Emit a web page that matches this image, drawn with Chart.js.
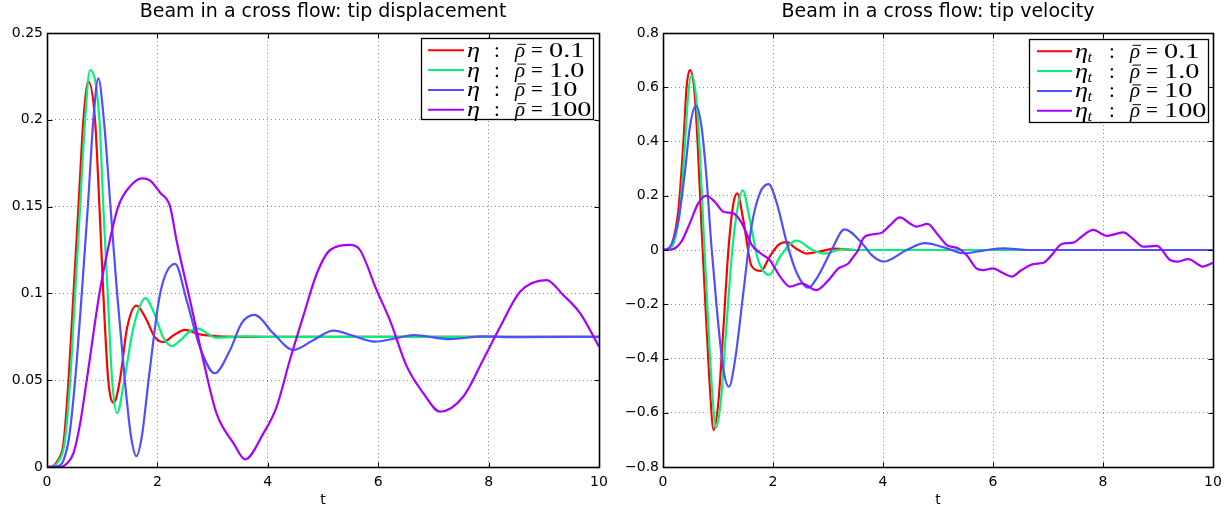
<!DOCTYPE html>
<html>
<head>
<meta charset="utf-8">
<script src="https://cdn.jsdelivr.net/npm/chart.js@4.4.1/dist/chart.umd.min.js"></script>
<style>
html,body{margin:0;padding:0;background:#fff;}
#wrap{position:relative;width:1230px;height:510px;overflow:hidden;background:#fff;}
.box{position:absolute;top:0;width:615px;height:510px;}
canvas{display:block;}
</style>
</head>
<body>
<div id="wrap">
  <div class="box" style="left:0"><canvas id="c1" width="615" height="510"></canvas></div>
  <div class="box" style="left:615px"><canvas id="c2" width="615" height="510"></canvas></div>
</div>
<script>
// ---------- data ----------
const rhoLabels = ['0.1', '1.0', '10', '100'];
const seriesColors = ['#ff0000', '#00f27a', '#4f4fff', '#a800ff'];
const xTicks = [0, 2, 4, 6, 8, 10];
const dispTicks = [0, 0.05, 0.1, 0.15, 0.2, 0.25];
const velTicks = [-0.8, -0.6, -0.4, -0.2, 0, 0.2, 0.4, 0.6, 0.8];

// tip displacement, rho = 0.1
const tD1 = [0,0.1,0.2,0.3,0.39,0.48,0.57,0.66,0.75,0.87,0.95,1.02,1.11,1.21,1.32,1.45,1.62,1.8,1.95,2.11,2.3,2.5,2.75,3.0,3.5,4,10];
const D1  = [0,0.0005,0.004,0.014,0.05,0.1,0.15,0.2,0.222,0.2,0.15,0.1,0.05,0.037,0.05,0.08,0.093,0.085,0.075,0.072,0.076,0.079,0.0765,0.0755,0.075,0.075,0.075];
// rho = 1.0
const tD2 = [0,0.1,0.2,0.32,0.42,0.51,0.6,0.69,0.78,0.95,1.02,1.10,1.18,1.27,1.40,1.55,1.65,1.78,1.95,2.1,2.26,2.45,2.6,2.74,2.9,3.05,3.3,3.6,4,10];
const D2  = [0,0.0004,0.003,0.014,0.05,0.1,0.15,0.2,0.2287,0.2,0.15,0.1,0.05,0.031,0.05,0.078,0.09,0.0973,0.088,0.075,0.0697,0.074,0.0785,0.0797,0.077,0.0745,0.0748,0.0752,0.075,0.075];
// rho = 10
const tD3 = [0,0.2,0.3,0.4,0.51,0.63,0.74,0.84,0.93,1.03,1.15,1.27,1.41,1.52,1.62,1.72,1.84,2.05,2.32,2.53,2.77,3.04,3.31,3.53,3.76,4.10,4.46,4.83,5.19,5.55,5.94,6.3,6.64,7.3,7.9,8.5,10];
const D3  = [0,0.0005,0.004,0.017,0.05,0.1,0.15,0.2,0.2239,0.2,0.15,0.1,0.05,0.018,0.0063,0.018,0.05,0.1,0.117,0.096,0.069,0.054,0.067,0.083,0.0876,0.077,0.0674,0.0732,0.0785,0.0755,0.0722,0.074,0.076,0.0737,0.0752,0.0748,0.075];
// rho = 100
const tD4 = [0,0.24,0.36,0.48,0.6,0.72,0.95,1.1,1.29,1.5,1.72,1.87,2.05,2.23,2.35,2.59,2.83,3.07,3.38,3.59,3.92,4.16,4.40,4.64,4.89,5.13,5.49,5.67,5.97,6.21,6.52,6.82,7.12,7.54,7.90,8.21,8.57,9.05,9.35,9.66,10];
const D4  = [0,0,0.002,0.008,0.025,0.05,0.1,0.125,0.15,0.1615,0.1663,0.165,0.158,0.15,0.13,0.0962,0.0616,0.031,0.0136,0.0044,0.0194,0.0347,0.0616,0.0866,0.1116,0.125,0.1279,0.125,0.102,0.0847,0.0578,0.0424,0.0319,0.0405,0.0616,0.0808,0.101,0.1077,0.0991,0.0885,0.0693];

// tip velocity, rho = 0.1
const tV1 = [0,0.1,0.16,0.28,0.37,0.43,0.49,0.57,0.63,0.70,0.76,0.84,0.92,1.01,1.10,1.19,1.28,1.35,1.46,1.61,1.78,1.94,2.10,2.25,2.40,2.61,2.88,3.13,3.5,10];
const V1  = [0,0.003,0.02,0.147,0.393,0.602,0.663,0.59,0.393,0.088,-0.158,-0.465,-0.664,-0.553,-0.283,0.002,0.172,0.209,0.111,-0.059,-0.077,-0.024,0.019,0.029,0.008,-0.013,-0.004,0.005,0,0];
// rho = 1.0
const tV2 = [0,0.1,0.2,0.31,0.40,0.46,0.52,0.61,0.67,0.74,0.80,0.88,0.965,1.05,1.15,1.26,1.36,1.45,1.58,1.73,1.93,2.13,2.43,2.70,2.94,3.25,3.6,10];
const V2  = [0,0.002,0.03,0.147,0.393,0.577,0.645,0.55,0.36,0.06,-0.18,-0.48,-0.655,-0.56,-0.29,0,0.16,0.22,0.11,-0.037,-0.092,-0.024,0.035,0.002,-0.013,0.002,0,0];
// rho = 10
const tV3 = [0,0.1,0.28,0.40,0.49,0.60,0.70,0.79,0.88,0.98,1.10,1.20,1.31,1.46,1.61,1.76,1.92,2.07,2.25,2.43,2.64,2.82,3.07,3.3,3.61,3.80,4.01,4.43,4.76,5.16,5.46,5.82,6.19,6.61,10];
const V3  = [0,0.006,0.11,0.29,0.455,0.531,0.455,0.27,0.015,-0.22,-0.443,-0.504,-0.405,-0.158,0.088,0.209,0.243,0.172,0.027,-0.084,-0.139,-0.096,0.002,0.076,0.027,-0.02,-0.043,0,0.025,0.006,-0.012,-0.002,0.006,0,0];
// rho = 100
const tV4 = [0,0.16,0.34,0.49,0.64,0.79,0.94,1.10,1.28,1.43,1.61,1.76,1.94,2.13,2.31,2.52,2.79,3.01,3.19,3.37,3.46,3.55,3.64,3.82,3.98,4.13,4.31,4.49,4.61,4.81,4.98,5.16,5.37,5.52,5.70,5.82,6.0,6.19,6.34,6.52,6.73,6.92,7.07,7.25,7.46,7.61,7.82,8.07,8.37,8.55,8.73,8.98,9.22,9.34,9.55,9.82,10];
const V4  = [0,0.002,0.033,0.1,0.172,0.2,0.178,0.141,0.135,0.1,0.02,-0.01,-0.037,-0.098,-0.135,-0.123,-0.148,-0.111,-0.068,-0.05,-0.025,0,0.043,0.058,0.064,0.092,0.12,0.098,0.086,0.096,0.061,0.018,0.006,-0.018,-0.068,-0.074,-0.068,-0.086,-0.098,-0.074,-0.052,-0.047,-0.018,0.022,0.027,0.049,0.074,0.052,0.065,0.04,0.012,0.015,-0.037,-0.043,-0.034,-0.061,-0.047];

// ---------- helpers ----------
function pts(t, v) { return t.map((x, k) => ({ x: x, y: v[k] })); }
function fmtTick(v) { return String(v).replace('-', '\u2212'); }

const SANS = '"DejaVu Sans", "Liberation Sans", sans-serif';
const SERIF = '"Liberation Serif", "DejaVu Serif", serif';

function mathText(ctx, s, x, y, font, hs) {
  ctx.save();
  ctx.font = font;
  ctx.translate(x, y);
  ctx.scale(hs, 1);
  ctx.fillText(s, 0, 0);
  ctx.restore();
}

const framePlugin = {
  id: 'frame',
  afterDatasetsDraw(chart) {
    const ctx = chart.ctx, a = chart.chartArea;
    const xs = chart.scales.x, ys = chart.scales.y;
    ctx.save();
    ctx.setLineDash([]);
    ctx.strokeStyle = '#000';
    ctx.lineWidth = 1.6;
    const L = Math.round(a.left) + 0.5, R = Math.round(a.right) + 0.5;
    const T = Math.round(a.top) + 0.5, B = Math.round(a.bottom) + 0.5;
    ctx.strokeRect(L, T, R - L, B - T);
    ctx.lineWidth = 1;
    ctx.beginPath();
    xs.ticks.forEach(tk => {
      const px = Math.round(xs.getPixelForValue(tk.value)) + 0.5;
      ctx.moveTo(px, B); ctx.lineTo(px, B - 5);
      ctx.moveTo(px, T); ctx.lineTo(px, T + 5);
    });
    ys.ticks.forEach(tk => {
      const py = Math.round(ys.getPixelForValue(tk.value)) + 0.5;
      ctx.moveTo(L, py); ctx.lineTo(L + 5, py);
      ctx.moveTo(R, py); ctx.lineTo(R - 5, py);
    });
    ctx.stroke();
    ctx.restore();
  }
};

const mathLegend = {
  id: 'mathLegend',
  afterDraw(chart, args, o) {
    const ctx = chart.ctx, a = chart.chartArea;
    const L = Math.round(a.right - o.inset - o.w), T = Math.round(a.top + o.top);
    ctx.save();
    ctx.setLineDash([]);
    ctx.fillStyle = '#fff';
    ctx.fillRect(L, T, o.w, o.h);
    ctx.strokeStyle = '#000';
    ctx.lineWidth = 1.3;
    ctx.strokeRect(L + 0.5, T + 0.5, o.w, o.h);
    ctx.textBaseline = 'alphabetic';
    ctx.textAlign = 'left';
    chart.data.datasets.forEach((ds, i) => {
      const y = T + 12.3 + i * 19.8;
      ctx.strokeStyle = ds.borderColor;
      ctx.lineWidth = 2;
      ctx.beginPath();
      ctx.moveTo(L + o.line0, y);
      ctx.lineTo(L + o.line1, y);
      ctx.stroke();
      const base = y + 6.5;
      ctx.fillStyle = '#000';
      mathText(ctx, '\u03b7', L + o.eta, base, 'italic 21px ' + SERIF, 1.25);
      if (o.sub) mathText(ctx, o.sub, L + o.eta + 12.5, base + 4, 'italic 15px ' + SERIF, 1.1);
      mathText(ctx, ':', L + o.colon, base, '21px ' + SERIF, 1);
      mathText(ctx, '\u03c1', L + o.rho, base, 'italic 21px ' + SERIF, 1);
      ctx.strokeStyle = '#000';
      ctx.lineWidth = 1;
      ctx.beginPath();
      ctx.moveTo(L + o.rho + 2.5, base - 12.5);
      ctx.lineTo(L + o.rho + 11, base - 12.5);
      ctx.stroke();
      mathText(ctx, '=', L + o.eq, base, '21px ' + SERIF, 1);
      mathText(ctx, ds.label, L + o.val, base, '21px ' + SERIF, 1.35);
    });
    ctx.restore();
  }
};

function makeChart(id, cfg) {
  const datasets = cfg.series.map((s, i) => ({
    label: rhoLabels[i],
    data: pts(s[0], s[1]),
    borderColor: seriesColors[i],
    backgroundColor: seriesColors[i],
    borderWidth: 2.2,
    pointRadius: 0,
    fill: false,
    cubicInterpolationMode: 'monotone',
    order: 4 - i
  }));
  return new Chart(document.getElementById(id), {
    type: 'line',
    data: { datasets: datasets },
    plugins: [framePlugin, mathLegend],
    options: {
      responsive: false,
      animation: false,
      events: [],
      layout: { padding: { left: 0, right: cfg.padRight, top: 0, bottom: 0 } },
      plugins: {
        legend: { display: false },
        tooltip: { enabled: false },
        title: {
          display: true, text: cfg.title, fullSize: false, color: '#000',
          font: { family: SANS, size: 19, weight: 'normal', lineHeight: 1.2 },
          padding: { top: 1, bottom: 9.2 }
        },
        mathLegend: cfg.legend
      },
      scales: {
        x: {
          type: 'linear', min: 0, max: 10,
          afterBuildTicks: s => { s.ticks = xTicks.map(v => ({ value: v })); },
          afterFit: s => { s.height = 43; },
          grid: { color: '#8c8c8c', lineWidth: 1, drawTicks: false },
          border: { display: false, dash: [1, 3] },
          ticks: { color: '#000', font: { family: SANS, size: 14 }, padding: 7, maxRotation: 0, autoSkip: false, callback: v => fmtTick(v) },
          title: { display: true, text: 't', color: '#000', font: { family: SANS, size: 14 }, padding: { top: 0, bottom: 1 } }
        },
        y: {
          type: 'linear', min: cfg.yMin, max: cfg.yMax,
          afterBuildTicks: s => { s.ticks = cfg.yTicks.map(v => ({ value: v })); },
          afterFit: s => { s.width = cfg.yWidth; },
          grid: { color: '#8c8c8c', lineWidth: 1, drawTicks: false },
          border: { display: false, dash: [1, 3] },
          ticks: { color: '#000', font: { family: SANS, size: 14 }, padding: 4, autoSkip: false, callback: v => fmtTick(v) }
        }
      }
    }
  });
}

makeChart('c1', {
  title: 'Beam in a cross flow: tip displacement',
  series: [[tD1, D1], [tD2, D2], [tD3, D3], [tD4, D4]],
  yMin: 0, yMax: 0.25, yTicks: dispTicks, yWidth: 47, padRight: 16,
  legend: { w: 172, h: 81, inset: 6, top: 5, line0: 7, line1: 43, eta: 46, sub: '', colon: 73, rho: 94, eq: 110, val: 128 }
});
makeChart('c2', {
  title: 'Beam in a cross flow: tip velocity',
  series: [[tV1, V1], [tV2, V2], [tV3, V3], [tV4, V4]],
  yMin: -0.8, yMax: 0.8, yTicks: velTicks, yWidth: 48, padRight: 17,
  legend: { w: 179, h: 83, inset: 5, top: 5.7, line0: 8, line1: 43, eta: 46, sub: 't', colon: 80, rho: 101, eq: 117, val: 135 }
});
</script>
</body>
</html>
